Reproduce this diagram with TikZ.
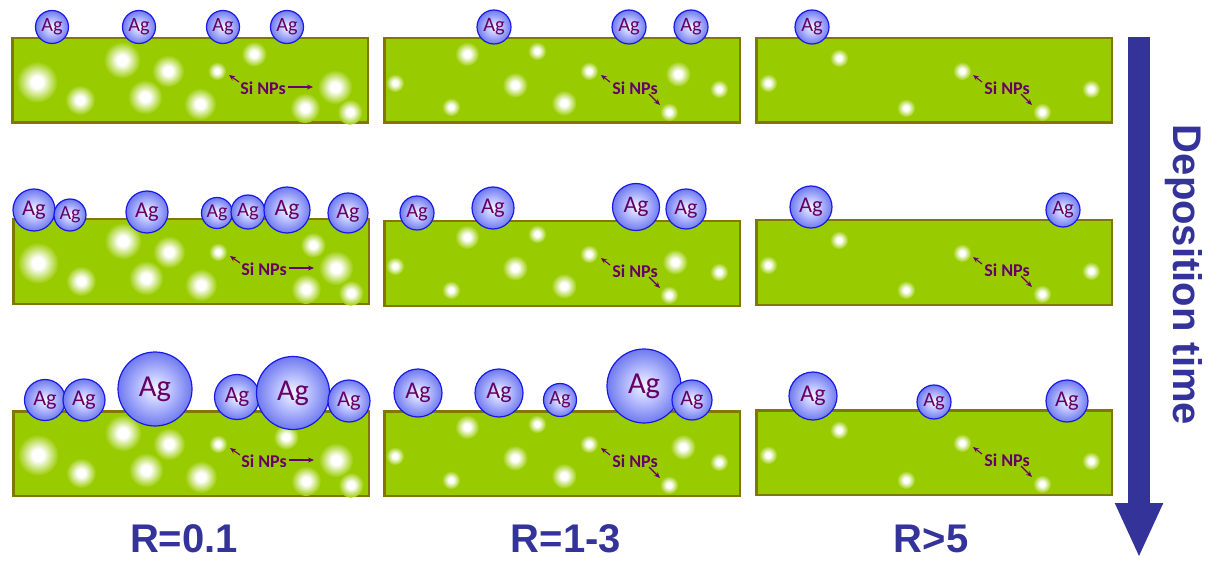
\documentclass[tikz,border=0pt]{standalone}
\usepackage{fontspec}
\setmainfont{Carlito}
\newfontfamily\labelfont{Liberation Sans}
\usetikzlibrary{arrows.meta}

\definecolor{panelgreen}{RGB}{153,204,0}
\definecolor{paneledge}{RGB}{128,120,0}
\definecolor{agedge}{RGB}{25,25,230}
\definecolor{agcore}{RGB}{246,247,255}
\definecolor{agmid}{RGB}{196,202,255}
\definecolor{agrim}{RGB}{112,122,240}
\definecolor{agtext}{RGB}{102,0,102}
\definecolor{timeblue}{RGB}{51,51,153}

% soft white glow of a Si nanoparticle, and the shaded Ag sphere
% (the path outline sits at 25bp of the shading)
\pgfdeclareradialshading{siglow}{\pgfpoint{0bp}{0bp}}{color(0bp)=(white); color(7bp)=(white); color(25bp)=(panelgreen); color(50bp)=(panelgreen)}
\pgfdeclareradialshading{agshade}{\pgfpoint{0bp}{0bp}}{color(0bp)=(agcore); color(9bp)=(agmid); color(25bp)=(agrim); color(50bp)=(agrim)}

\tikzset{
  panel/.style={draw=paneledge, line width=2.5pt, fill=panelgreen,
    minimum width=355.5pt, minimum height=84.5pt, anchor=north west, inner sep=0pt},
  agnode/.style={circle, draw=agedge, line width=1.2pt, shading=agshade,
    text=agtext, inner sep=0pt},
  npslabel/.style={text=agtext, font=\bfseries\fontsize{18}{18}\selectfont, inner sep=1pt},
  npsarrow/.style={draw=agtext, line width=1.1pt, -{Stealth[length=6pt,width=5pt]}},
  ratelabel/.style={text=timeblue, font=\labelfont\bfseries\fontsize{40}{40}\selectfont, inner sep=0pt},
}

% \agsphere{name}{x}{y}{radius}
\newcommand\agsphere[4]{%
  \pgfmathsetmacro\agdiam{2*#4}%
  \pgfmathsetmacro\agfs{0.5*#4+12}%
  \node[agnode, minimum size=\agdiam pt, font=\fontsize{\agfs}{\agfs}\selectfont] (#1) at (#2,#3) {Ag};}

% \siblob{panel}{dx}{dy}{radius}
\newcommand\siblob[4]{%
  \pgfmathsetmacro\blobr{1.15*#4}%
  \shade[shading=siglow] ([shift={(#2,#3)}]#1.north west) circle (\blobr pt);}

% label with one arrow up-left and one to the right
\newcommand\silabelL[2]{%
  \node[npslabel] (#1) at ([shift={(252,51)}]#2.north west) {Si NPs};
  \coordinate (#1a) at ([shift={(-34,-13)}]#1.center);
  \coordinate (#1b) at ([shift={(50,-1)}]#1.center);
  \draw[npsarrow] ([shift={(-24,-6)}]#1.center) -- (#1a);
  \draw[npsarrow] ([shift={(25,-1)}]#1.center) -- (#1b);}

% label with one arrow up-left and one down-right
\newcommand\silabelR[2]{%
  \node[npslabel] (#1) at ([shift={(252,51)}]#2.north west) {Si NPs};
  \coordinate (#1a) at ([shift={(-34,-13)}]#1.center);
  \coordinate (#1b) at ([shift={(25,17)}]#1.center);
  \draw[npsarrow] ([shift={(-25,-6)}]#1.center) -- (#1a);
  \draw[npsarrow] ([shift={(14,6)}]#1.center) -- (#1b);}

% glow pattern of the dense film (R=0.1)
\newcommand\denseblobs[1]{%
  \siblob{#1}{26}{45}{18}\siblob{#1}{111}{23}{16}\siblob{#1}{157}{34}{14}
  \siblob{#1}{69}{63}{13}\siblob{#1}{134}{60}{15}\siblob{#1}{189}{67}{14}
  \siblob{#1}{206}{34}{8}\siblob{#1}{324}{50}{15}\siblob{#1}{294}{71}{13}
  \siblob{#1}{339}{75}{11}}

% glow pattern of the medium film (R=1-3)
\newcommand\mediumblobs[1]{%
  \siblob{#1}{12}{46}{8}\siblob{#1}{84}{17}{10.5}\siblob{#1}{154}{14}{8}
  \siblob{#1}{132}{48}{11}\siblob{#1}{68}{70}{8}\siblob{#1}{181}{66}{11}
  \siblob{#1}{206}{34}{8}\siblob{#1}{336}{52}{8}\siblob{#1}{286}{75}{8}}

% glow pattern of the sparse film (R>5)
\newcommand\sparseblobs[1]{%
  \siblob{#1}{13}{46}{8}\siblob{#1}{84}{21}{8}\siblob{#1}{151}{71}{8}
  \siblob{#1}{207}{34}{8}\siblob{#1}{336}{52}{8}\siblob{#1}{287}{75}{8}}

\begin{document}
\begin{tikzpicture}[x=1pt, y=-1pt]
\useasboundingbox (0,0) rectangle (1212,561);

% ---- films ----
\node[panel] (p11) at (11,37) {};
\node[panel] (p12) at (383,37) {};
\node[panel] (p13) at (755,37) {};
\node[panel] (p21) at (12,218) {};
\node[panel] (p22) at (383,220) {};
\node[panel] (p23) at (755,219) {};
\node[panel] (p31) at (12,410) {};
\node[panel] (p32) at (383,410) {};
\node[panel] (p33) at (755,409) {};

% ---- embedded Si nanoparticles ----
\denseblobs{p11}\siblob{p11}{243}{17}{11}
\denseblobs{p21}\siblob{p21}{301}{27}{11}
\denseblobs{p31}\siblob{p31}{274}{27}{11}
\mediumblobs{p12}\siblob{p12}{295}{37}{11}
\mediumblobs{p22}\siblob{p22}{292}{42}{11}
\mediumblobs{p32}\siblob{p32}{300}{37}{11}
\sparseblobs{p13}
\sparseblobs{p23}
\sparseblobs{p33}

% ---- labels inside the films ----
\silabelL{s11}{p11}
\silabelL{s21}{p21}
\silabelL{s31}{p31}
\silabelR{s12}{p12}
\silabelR{s22}{p22}
\silabelR{s32}{p32}
\silabelR{s13}{p13}
\silabelR{s23}{p23}
\silabelR{s33}{p33}

% ---- Ag particles, first stage ----
\agsphere{a11a}{52}{27}{16.5}
\agsphere{a11b}{139}{27}{16.5}
\agsphere{a11c}{223}{27}{16.5}
\agsphere{a11d}{287}{27}{16.5}
\agsphere{a12a}{494}{27}{17}
\agsphere{a12b}{629}{27}{17}
\agsphere{a12c}{691}{27}{17}
\agsphere{a13a}{812}{27}{17}

% ---- Ag particles, second stage ----
\agsphere{a21a}{34}{210}{21}
\agsphere{a21b}{70}{215}{16}
\agsphere{a21c}{147}{212}{21}
\agsphere{a21d}{217}{213}{15.5}
\agsphere{a21e}{248}{212}{17}
\agsphere{a21f}{287}{210}{23}
\agsphere{a21g}{348}{213}{20}
\agsphere{a22a}{417}{213}{17}
\agsphere{a22b}{493}{208}{21}
\agsphere{a22c}{636}{207}{23.5}
\agsphere{a22d}{686}{209}{20}
\agsphere{a23a}{811}{207}{21}
\agsphere{a23b}{1063}{210}{17}

% ---- Ag particles, third stage ----
\agsphere{a31a}{45}{400}{20.5}
\agsphere{a31b}{84}{400}{21}
\agsphere{a31c}{155}{389}{37}
\agsphere{a31d}{237}{397}{22.5}
\agsphere{a31e}{293}{393}{36.5}
\agsphere{a31f}{349}{401}{21}
\agsphere{a32a}{418}{393}{24}
\agsphere{a32b}{499}{393}{24}
\agsphere{a32c}{560}{400}{16.5}
\agsphere{a32d}{644}{386}{37}
\agsphere{a32e}{692}{400}{20}
\agsphere{a33a}{813}{396}{24}
\agsphere{a33b}{934}{402}{17}
\agsphere{a33c}{1067}{401}{21}

% ---- ratio labels ----
\node[ratelabel] (r1) at (184,539) {R=0.1};
\node[ratelabel] (r2) at (566,539) {R=1-3};
\node[ratelabel] (r3) at (931,539) {R>5};

% ---- time axis ----
\coordinate (ttop) at (1139,37);
\coordinate (tbot) at (1139,558);
\draw[timeblue, line width=22pt, -{Triangle[length=55pt,width=44pt]}] (ttop) -- (tbot);
\node[ratelabel, rotate=-90] (dtime) at (1184,275) {Deposition time};
\end{tikzpicture}
\end{document}
